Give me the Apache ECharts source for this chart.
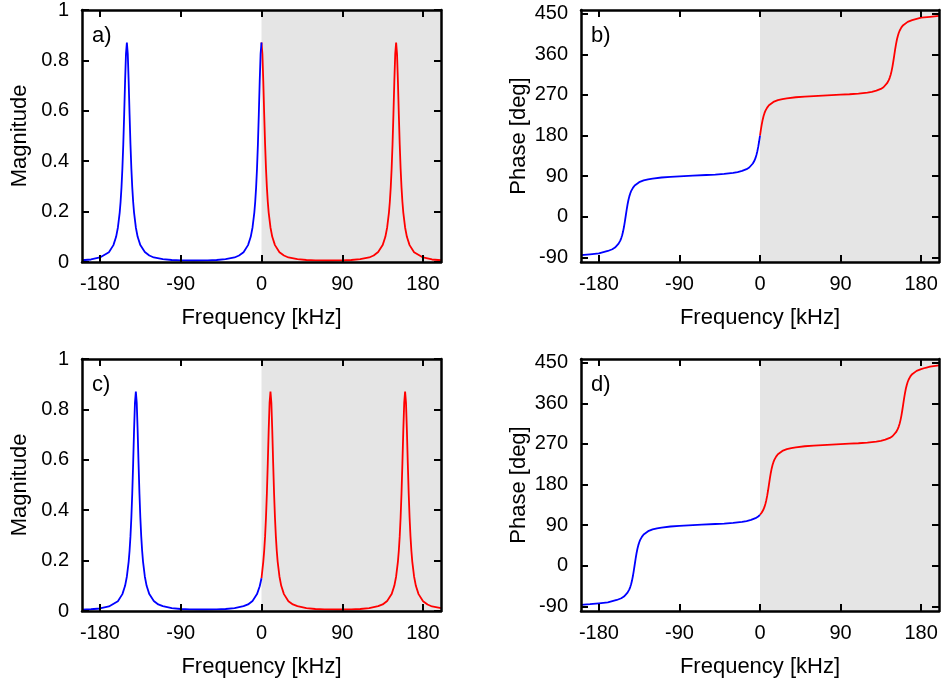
<!DOCTYPE html>
<html>
<head>
<meta charset="utf-8">
<script src="https://cdn.jsdelivr.net/npm/echarts@6/dist/echarts.min.js"></script>
<style>
  html, body { margin: 0; padding: 0; background: #fff; }
  #chart { width: 941px; height: 686px; }
</style>
</head>
<body>
<div id="chart"></div>
<script>
// tick labels
var freqTicks = [-180, -90, 0, 90, 180];
var magTicks = [0, 0.2, 0.4, 0.6, 0.8, 1];
var phaseTicks = [-90, 0, 90, 180, 270, 360, 450];

// panels a) and b): resonances at -150, 0, 150 kHz
var freqBlueAB = [-200, -190, -180, -170, -165, -162, -160, -158, -157, -156,
  -155, -154, -153, -152, -151, -150, -149, -148, -147, -146,
  -145, -144, -143, -142, -140, -138, -135, -130, -125, -120,
  -110, -100, -90, -75, -60, -50, -40, -30, -25, -20,
  -15, -12, -10, -8, -7, -6, -5, -4, -3, -2, -1, 0];
var freqRedAB = [0, 1, 2, 3, 4, 5, 6, 7, 8,
  10, 12, 15, 20, 25, 30, 40, 50, 60,
  75, 90, 100, 110, 120, 125, 130, 135, 138, 140,
  142, 143, 144, 145, 146, 147, 148, 149, 150, 151,
  152, 153, 154, 155, 156, 157, 158, 160, 162, 165,
  170, 180, 190, 200];
var magBlueA = [0.007, 0.010, 0.018, 0.039, 0.067, 0.100, 0.137, 0.196, 0.239, 0.296,
  0.371, 0.467, 0.586, 0.716, 0.826, 0.871, 0.826, 0.716, 0.586, 0.467,
  0.371, 0.296, 0.239, 0.196, 0.137, 0.100, 0.067, 0.040, 0.026, 0.018,
  0.011, 0.008, 0.0064, 0.006, 0.0064, 0.008, 0.011, 0.018, 0.026, 0.039,
  0.067, 0.100, 0.137, 0.196, 0.239, 0.296, 0.371, 0.467, 0.586, 0.716, 0.826, 0.871];
var magRedA = [0.871, 0.826, 0.716, 0.586, 0.467, 0.371, 0.296, 0.239, 0.196,
  0.137, 0.100, 0.067, 0.039, 0.026, 0.018, 0.011, 0.008, 0.0064,
  0.006, 0.0064, 0.008, 0.011, 0.018, 0.026, 0.040, 0.067, 0.100, 0.137,
  0.196, 0.239, 0.296, 0.371, 0.467, 0.586, 0.716, 0.826, 0.871, 0.826,
  0.716, 0.586, 0.467, 0.371, 0.296, 0.239, 0.196, 0.137, 0.100, 0.067,
  0.039, 0.018, 0.010, 0.007];
var phaseBlueB = [-85, -83, -81, -75.6, -71.7, -68, -64.4, -59.4, -56.1, -52.1,
  -47, -40.6, -32.6, -22.6, -10.8, 2.4, 15.5, 27.3, 37.3, 45.3,
  51.7, 56.8, 60.8, 64.1, 69.4, 73.0, 76.8, 80.7, 83.1, 84.8,
  87.1, 88.6, 89.6, 91.1, 92.6, 93.6, 95.2, 97.5, 99.2, 101.6,
  105.6, 109.3, 113, 118.1, 121.4, 125.4, 130.5, 136.9, 144.9, 154.9, 166.8, 180];
var phaseRedB = [180, 193.2, 205.1, 215.1, 223.1, 229.5, 234.6, 238.6, 241.9,
  247, 250.7, 254.4, 258.4, 260.8, 262.5, 264.8, 266.4, 267.4,
  268.9, 270.4, 271.4, 273, 275.2, 276.9, 279.3, 283.2, 287, 290.6,
  295.9, 299.2, 303.2, 308.3, 314.7, 322.7, 332.7, 344.5, 357.6, 370.8,
  382.6, 392.6, 400.6, 407, 412.1, 416.1, 419.4, 424.4, 428, 431.7,
  435.6, 441, 443, 445];

// panels c) and d): resonances at -140, 10, 160 kHz
var freqBlueCD = [-200, -190, -180, -170, -160, -155, -152, -150, -148, -147,
  -146, -145, -144, -143, -142, -141, -140, -139, -138, -137,
  -136, -135, -134, -133, -132, -130, -128, -125, -120, -115,
  -110, -100, -90, -80, -65, -50, -40, -30, -20, -15,
  -10, -5, -2, 0];
var freqRedCD = [0, 2, 3, 4, 5, 6, 7, 8, 9, 10,
  11, 12, 13, 14, 15, 16, 17, 18, 20, 22,
  25, 30, 35, 40, 50, 60, 70, 85, 100, 110,
  120, 130, 135, 140, 145, 148, 150, 152, 153, 154,
  155, 156, 157, 158, 159, 160, 161, 162, 163, 164,
  165, 166, 167, 168, 170, 172, 175, 180, 185, 190, 200];
var magBlueC = [0.005, 0.007, 0.010, 0.018, 0.039, 0.067, 0.100, 0.137, 0.196, 0.239,
  0.296, 0.371, 0.467, 0.586, 0.716, 0.826, 0.871, 0.826, 0.716, 0.586,
  0.467, 0.371, 0.296, 0.239, 0.196, 0.137, 0.100, 0.067, 0.040, 0.026,
  0.019, 0.011, 0.008, 0.0064, 0.006, 0.0064, 0.008, 0.011, 0.019, 0.026,
  0.040, 0.067, 0.098, 0.13];
var magRedC = [0.13, 0.196, 0.239, 0.296, 0.371, 0.467, 0.586, 0.716, 0.826, 0.871,
  0.826, 0.716, 0.586, 0.467, 0.371, 0.296, 0.239, 0.196, 0.137, 0.100,
  0.067, 0.039, 0.026, 0.019, 0.011, 0.008, 0.0064, 0.006, 0.0064, 0.008,
  0.011, 0.019, 0.026, 0.040, 0.067, 0.100, 0.137, 0.196, 0.239, 0.296,
  0.371, 0.467, 0.586, 0.716, 0.826, 0.871, 0.826, 0.716, 0.586, 0.467,
  0.371, 0.296, 0.239, 0.196, 0.137, 0.100, 0.067, 0.039, 0.026, 0.018, 0.011];
var phaseBlueD = [-86.5, -85, -83, -81, -75.6, -71.7, -68, -64.4, -59.4, -56.1,
  -52.1, -47, -40.6, -32.6, -22.6, -10.8, 2.4, 15.5, 27.3, 37.3,
  45.3, 51.7, 56.8, 60.8, 64.1, 69.4, 73.0, 76.8, 80.7, 83.1,
  84.8, 87.1, 88.6, 89.6, 91.1, 92.6, 93.6, 95.2, 97.5, 99.2,
  101.6, 105.6, 109.3, 113];
var phaseRedD = [113, 118.1, 121.4, 125.4, 130.5, 136.9, 144.9, 154.9, 166.8, 180,
  193.2, 205.1, 215.1, 223.1, 229.5, 234.6, 238.6, 241.9, 247, 250.7,
  254.4, 258.4, 260.8, 262.5, 264.8, 266.4, 267.4, 268.9, 270.4, 271.4,
  273, 275.2, 276.9, 279.3, 283.2, 287, 290.6, 295.9, 299.2, 303.2,
  308.3, 314.7, 322.7, 332.7, 344.5, 357.6, 370.8, 382.6, 392.6, 400.6,
  407, 412.1, 416.1, 419.4, 424.4, 428, 431.7, 435.6, 438.6, 441, 444];

var FONT = 'Liberation Sans, Arial, Helvetica, sans-serif';

function zip(xs, ys) {
  return xs.map(function (x, i) { return [x, ys[i]]; });
}

var grids = [
  { left: 82, top: 10, width: 359, height: 252 },
  { left: 581, top: 10, width: 358, height: 252 },
  { left: 82, top: 359, width: 359, height: 252 },
  { left: 581, top: 359, width: 358, height: 252 }
];

var line = { show: true, onZero: false, lineStyle: { color: '#000', width: 2.5 } };

function xAxisPair(gi) {
  var tick = { show: true, inside: true, length: 7, lineStyle: { color: '#000', width: 2 }, customValues: freqTicks };
  return [
    {
      type: 'value', gridIndex: gi, position: 'bottom', min: -200, max: 200, z: 5,
      axisLine: line, axisTick: tick, splitLine: { show: false },
      axisLabel: { customValues: freqTicks, margin: 12, color: '#000', fontSize: 20, fontFamily: FONT },
      name: 'Frequency [kHz]', nameLocation: 'middle', nameGap: 45,
      nameTextStyle: { fontSize: 22, color: '#000', fontFamily: FONT }
    },
    {
      type: 'value', gridIndex: gi, position: 'top', min: -200, max: 200, z: 5,
      axisLine: line, axisTick: tick, splitLine: { show: false },
      axisLabel: { show: false }
    }
  ];
}

function yAxisPair(gi, isPhase) {
  var ticks = isPhase ? phaseTicks : magTicks;
  var mn = isPhase ? -100 : 0;
  var mx = isPhase ? 458 : 1;
  var tick = { show: true, inside: true, length: 7, lineStyle: { color: '#000', width: 2 }, customValues: ticks };
  return [
    {
      type: 'value', gridIndex: gi, position: 'left', min: mn, max: mx, z: 5,
      axisLine: line, axisTick: tick, splitLine: { show: false },
      axisLabel: { customValues: ticks, margin: 13, color: '#000', fontSize: 20, fontFamily: FONT },
      name: isPhase ? 'Phase [deg]' : 'Magnitude', nameLocation: 'middle', nameGap: 51,
      nameTextStyle: { fontSize: 22, color: '#000', fontFamily: FONT }
    },
    {
      type: 'value', gridIndex: gi, position: 'right', min: mn, max: mx, z: 5,
      axisLine: line, axisTick: tick, splitLine: { show: false },
      axisLabel: { show: false }
    }
  ];
}

var xAxes = [], yAxes = [];
for (var g = 0; g < 4; g++) {
  xAxes = xAxes.concat(xAxisPair(g));
  yAxes = yAxes.concat(yAxisPair(g, g % 2 === 1));
}

function curve(gi, xs, ys, color, shade) {
  var s = {
    type: 'line', xAxisIndex: gi * 2, yAxisIndex: gi * 2,
    data: zip(xs, ys), showSymbol: false, symbol: 'none', z: 3,
    lineStyle: { color: color, width: 1.8 }, itemStyle: { color: color }
  };
  if (shade) {
    s.markArea = {
      silent: true,
      itemStyle: { color: '#e5e5e5' },
      data: [[{ xAxis: 0 }, { xAxis: 200 }]]
    };
  }
  return s;
}

var series = [
  curve(0, freqRedAB, magRedA, '#ff0000', true),
  curve(0, freqBlueAB, magBlueA, '#0000ff'),
  curve(1, freqRedAB, phaseRedB, '#ff0000', true),
  curve(1, freqBlueAB, phaseBlueB, '#0000ff'),
  curve(2, freqRedCD, magRedC, '#ff0000', true),
  curve(2, freqBlueCD, magBlueC, '#0000ff'),
  curve(3, freqRedCD, phaseRedD, '#ff0000', true),
  curve(3, freqBlueCD, phaseBlueD, '#0000ff')
];

var panelLabels = ['a)', 'b)', 'c)', 'd)'];
var graphics = panelLabels.map(function (t, i) {
  return {
    type: 'text', left: grids[i].left + 10, top: grids[i].top + 15, z: 10,
    style: { text: t, fontSize: 22, fill: '#000', fontFamily: FONT }
  };
});

var chart = echarts.init(document.getElementById('chart'));
chart.setOption({
  animation: false,
  backgroundColor: '#fff',
  textStyle: { fontFamily: FONT },
  grid: grids,
  xAxis: xAxes,
  yAxis: yAxes,
  series: series,
  graphic: graphics
});
</script>
</body>
</html>
